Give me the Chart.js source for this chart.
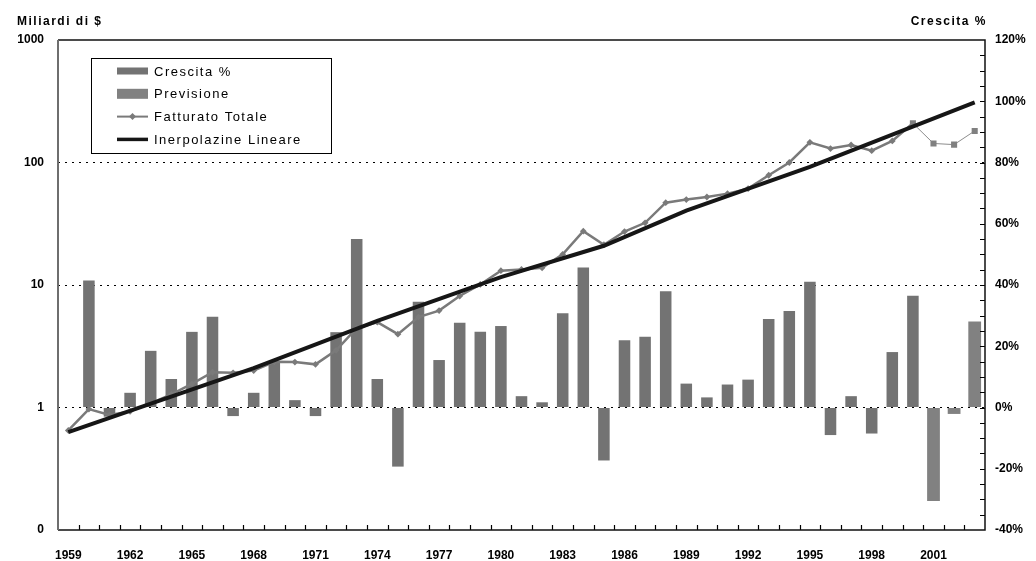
<!DOCTYPE html>
<html>
<head>
<meta charset="utf-8">
<script src="https://cdn.jsdelivr.net/npm/chart.js@4.4.0/dist/chart.umd.min.js"></script>
<style>
  html, body { margin: 0; padding: 0; background: #fff; }
  #wrap { width: 1036px; height: 561px; }
</style>
</head>
<body>
<div id="wrap"><canvas id="myChart" width="1036" height="561"></canvas></div>
<script>
// anni 1959 - 2003
const anni = ['1959', '1960', '1961', '1962', '1963', '1964', '1965', '1966', '1967', '1968',
  '1969', '1970', '1971', '1972', '1973', '1974', '1975', '1976', '1977', '1978',
  '1979', '1980', '1981', '1982', '1983', '1984', '1985', '1986', '1987', '1988',
  '1989', '1990', '1991', '1992', '1993', '1994', '1995', '1996', '1997', '1998',
  '1999', '2000', '2001', '2002', '2003'];

// crescita % annua (asse destro)
const crescita = [null, 41.5, -3, 4.8, 18.5, 9.3, 24.7, 29.6, -2.8, 4.8,
  14.6, 2.4, -2.8, 24.6, 55, 9.3, -19.3, 34.5, 15.5, 27.7,
  24.7, 26.6, 3.7, 1.7, 30.8, 45.7, -17.3, 22, 23.1, 38,
  7.8, 3.3, 7.5, 9.1, 28.9, 31.5, 41.1, -9, 3.7, -8.5,
  18.1, 36.5, null, null, null];

// previsione crescita %
const previsioneAnni = ['2001', '2002', '2003'];
const previsione = [-30.5, -2.1, 28.1];

// fatturato totale, miliardi di $ (1959 - 2000)
const fatturato = [0.65, 0.97, 0.87, 0.93, 1.08, 1.28, 1.56, 1.94, 1.92, 2.0,
  2.36, 2.35, 2.25, 2.93, 4.44, 4.97, 3.97, 5.47, 6.18, 8.13,
  10.1, 13.1, 13.4, 13.8, 17.8, 27.5, 21.3, 27.3, 32.2, 47,
  49.8, 52.3, 55.7, 61.2, 78.7, 100, 146, 130, 139, 125,
  150, 209];
// fatturato previsto (2001 - 2003)
const fatturatoPrev = [143, 140, 181];

// interpolazione lineare
const trendAnni = ['1959', '1968', '1974', '1980', '1985', '1989', '1995', '2003'];
const trendValori = [0.63, 2.1, 5.1, 11.6, 20.9, 40.5, 92, 310];

const tickSinistra = [0.1, 1, 10, 100, 1000];
const lineeGriglia = [1, 10, 100];

const FONT = '"Liberation Sans", Arial, Helvetica, sans-serif';
const INIZIO_PREV = fatturato.length - 1; // indice del 2000

// cornice, tacche interne, titoli e legenda
const cornice = {
  id: 'cornice',
  afterDraw(chart) {
    const { ctx, chartArea: a, scales } = chart;
    ctx.save();

    // tacche asse x (tra le categorie) e asse destro
    ctx.strokeStyle = '#000';
    ctx.lineWidth = 1.2;
    ctx.beginPath();
    for (let i = 1; i < anni.length; i++) {
      const px = Math.round((scales.x.getPixelForValue(i - 1) + scales.x.getPixelForValue(i)) / 2) + 0.5;
      ctx.moveTo(px, a.bottom);
      ctx.lineTo(px, a.bottom - 5);
    }
    for (let v = scales.y2.min + 5; v < scales.y2.max; v += 5) {
      const py = Math.round(scales.y2.getPixelForValue(v)) + 0.5;
      ctx.moveTo(a.right, py);
      ctx.lineTo(a.right - 5, py);
    }
    ctx.stroke();

    // cornice
    ctx.lineWidth = 1.5;
    ctx.strokeStyle = '#111';
    ctx.beginPath();
    ctx.moveTo(a.left, a.top); ctx.lineTo(a.right, a.top);
    ctx.lineTo(a.right, a.bottom); ctx.lineTo(a.left, a.bottom);
    ctx.stroke();
    ctx.lineWidth = 2;
    ctx.strokeStyle = '#6e6e6e';
    ctx.beginPath();
    ctx.moveTo(a.left, a.top); ctx.lineTo(a.left, a.bottom);
    ctx.stroke();

    // titoli assi
    ctx.fillStyle = '#000';
    ctx.font = 'bold 12px ' + FONT;
    ctx.letterSpacing = '1.5px';
    ctx.textBaseline = 'alphabetic';
    ctx.textAlign = 'left';
    ctx.fillText('Miliardi di $', 17, 25);
    const t = 'Crescita %';
    ctx.fillText(t, 987 - ctx.measureText(t).width, 25);

    // legenda
    const lx = 91, ly = 58, lw = 240, lh = 95;
    ctx.fillStyle = '#fff';
    ctx.fillRect(lx, ly, lw, lh);
    ctx.lineWidth = 1;
    ctx.strokeStyle = '#000';
    ctx.strokeRect(lx + 0.5, ly + 0.5, lw, lh);

    const ordine = ['Crescita %', 'Previsione', 'Fatturato Totale', 'Inerpolazine Lineare'];
    ctx.font = '13px ' + FONT;
    ctx.textBaseline = 'middle';
    ordine.forEach((nome, k) => {
      const ds = chart.data.datasets.find(d => d.label === nome);
      const cy = 71 + k * 22.8;
      const sx = 117, sw = 31;
      if (ds.type === 'line') {
        ctx.strokeStyle = ds.borderColor;
        ctx.lineWidth = k === 3 ? 3.5 : 2;
        ctx.beginPath();
        ctx.moveTo(sx, cy); ctx.lineTo(sx + sw, cy);
        ctx.stroke();
        if (k === 2) {
          ctx.fillStyle = ds.borderColor;
          ctx.beginPath();
          ctx.moveTo(sx + sw / 2, cy - 3.5); ctx.lineTo(sx + sw / 2 + 3.5, cy);
          ctx.lineTo(sx + sw / 2, cy + 3.5); ctx.lineTo(sx + sw / 2 - 3.5, cy);
          ctx.closePath();
          ctx.fill();
        }
      } else {
        const h = k === 0 ? 7 : 10;
        ctx.fillStyle = ds.backgroundColor;
        ctx.fillRect(sx, cy - h / 2, sw, h);
      }
      ctx.fillStyle = '#000';
      ctx.fillText(nome, 154, cy + 1);
    });
    ctx.letterSpacing = '0px';
    ctx.restore();
  }
};

const ctx = document.getElementById('myChart').getContext('2d');

const chart = new Chart(ctx, {
  type: 'bar',
  data: {
    labels: anni,
    datasets: [
      {
        type: 'line',
        label: 'Inerpolazine Lineare',
        data: trendAnni.map((a, i) => ({ x: a, y: trendValori[i] })),
        yAxisID: 'y',
        borderColor: '#161616',
        borderWidth: 4,
        pointRadius: 0,
        spanGaps: true,
        tension: 0,
        order: 0
      },
      {
        type: 'line',
        label: 'Fatturato Totale',
        data: fatturato.concat(fatturatoPrev),
        yAxisID: 'y',
        borderColor: '#7a7a7a',
        backgroundColor: '#7a7a7a',
        borderWidth: 2.5,
        tension: 0,
        pointStyle: c => c.dataIndex >= INIZIO_PREV ? 'rect' : 'rectRot',
        pointRadius: c => c.dataIndex >= INIZIO_PREV ? 4.3 : 3.4,
        pointBackgroundColor: c => c.dataIndex >= INIZIO_PREV ? '#808080' : '#7a7a7a',
        pointBorderWidth: 0,
        segment: {
          borderWidth: c => c.p0DataIndex >= INIZIO_PREV ? 1 : 2.5,
          borderColor: c => c.p0DataIndex >= INIZIO_PREV ? '#8c8c8c' : '#7a7a7a'
        },
        order: 1
      },
      {
        label: 'Previsione',
        data: previsioneAnni.map((a, i) => ({ x: a, y: previsione[i] })),
        yAxisID: 'y2',
        backgroundColor: '#818181',
        grouped: false,
        categoryPercentage: 1,
        barPercentage: 0.62,
        order: 2
      },
      {
        label: 'Crescita %',
        data: crescita,
        yAxisID: 'y2',
        backgroundColor: '#737373',
        grouped: false,
        categoryPercentage: 1,
        barPercentage: 0.56,
        order: 3
      }
    ]
  },
  options: {
    responsive: false,
    animation: false,
    layout: { padding: { top: 40, left: 0, right: 0, bottom: 0 } },
    plugins: {
      legend: { display: false },
      tooltip: { enabled: false }
    },
    scales: {
      x: {
        offset: true,
        grid: { display: false },
        border: { display: false },
        ticks: {
          autoSkip: false,
          maxRotation: 0,
          padding: 10,
          color: '#000',
          font: { family: FONT, size: 12, weight: 'bold' },
          callback: (v, i) => i % 3 === 0 ? anni[i] : ''
        },
        afterFit: s => { s.height = 31; }
      },
      y: {
        type: 'logarithmic',
        position: 'left',
        min: 0.1,
        max: 1000,
        afterBuildTicks: s => { s.ticks = tickSinistra.map(v => ({ value: v })); },
        ticks: {
          padding: 14,
          color: '#000',
          font: { family: FONT, size: 12, weight: 'bold' },
          callback: v => v === 0.1 ? '0' : String(v)
        },
        grid: {
          drawTicks: false,
          lineWidth: 1,
          color: c => (c.tick && lineeGriglia.includes(c.tick.value)) ? '#000' : 'rgba(0,0,0,0)'
        },
        border: { display: false, dash: [2, 5] },
        afterFit: s => { s.width = 58; }
      },
      y2: {
        position: 'right',
        min: -40,
        max: 120,
        ticks: {
          stepSize: 20,
          padding: 10,
          color: '#000',
          font: { family: FONT, size: 12, weight: 'bold' },
          callback: v => v + '%'
        },
        grid: { drawOnChartArea: false, drawTicks: false },
        border: { display: false },
        afterFit: s => { s.width = 51; }
      }
    }
  },
  plugins: [cornice]
});
</script>
</body>
</html>
